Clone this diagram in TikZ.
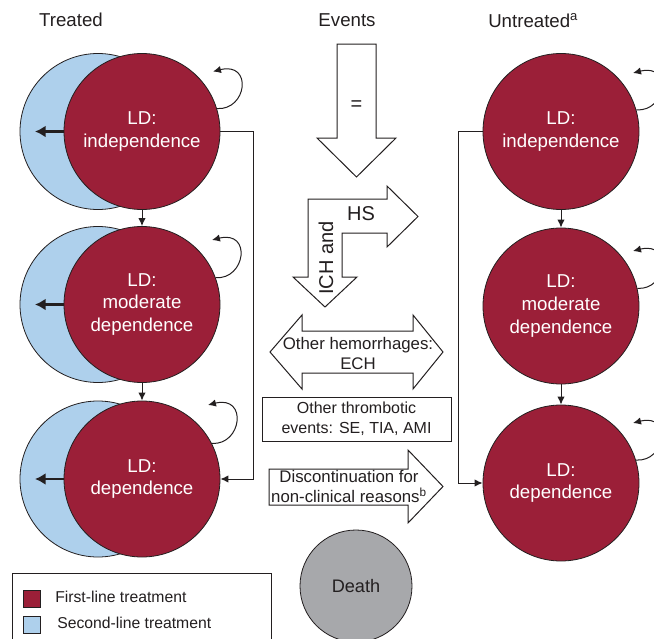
\documentclass[tikz,border=0pt]{standalone}
\usepackage{fontspec}
\setmainfont{Liberation Sans}
\usetikzlibrary{arrows.meta}
\definecolor{ldred}{RGB}{155,31,56}
\definecolor{ldblue}{RGB}{174,208,236}
\definecolor{ldgray}{RGB}{167,168,171}
\definecolor{ink}{RGB}{35,31,32}
\begin{document}
\begin{tikzpicture}[x=0.75pt,y=-0.75pt,
  redc/.style={circle, draw=ink, line width=0.6pt, fill=ldred, minimum size=117pt, inner sep=0pt, text=white, align=center, font=\fontsize{14}{17}\selectfont},
  bluec/.style={circle, draw=ink, line width=0.6pt, fill=ldblue, minimum size=117pt, inner sep=0pt},
  deathc/.style={circle, draw=ink, line width=0.6pt, fill=ldgray, minimum size=84pt, inner sep=0pt, text=ink, font=\fontsize{13.6}{16}\selectfont},
  conn/.style={draw=ink, line width=0.75pt, -{Latex[length=6pt,width=5.5pt]}},
  tharrow/.style={draw=ink, line width=2pt, -{Latex[length=8pt,width=9pt]}},
  blockarrow/.style={draw=ink, line width=0.75pt, fill=white, line join=miter},
  lbl/.style={text=ink, font=\fontsize{12.6}{15}\selectfont, align=center},
  smlbl/.style={text=ink, font=\fontsize{12}{15}\selectfont, align=center},
  leglbl/.style={text=ink, font=\fontsize{11.8}{14}\selectfont},
  biglbl/.style={text=ink, font=\fontsize{15}{18}\selectfont},
  headlbl/.style={text=ink, font=\fontsize{14}{16}\selectfont},
  legsq/.style={draw=ink, line width=0.6pt, minimum size=13pt, inner sep=0pt}
]
\useasboundingbox (0,0) rectangle (654,639);
\clip (0,0) rectangle (654,639);

% headers
\node[headlbl] (hTreated) at (71,20) {Treated};
\node[headlbl] (hEvents) at (347,20) {Events};
\node[headlbl, anchor=west, inner sep=0pt] (hUntreated) at (488,21) {Untreated\textsuperscript{a}};

% treated column
\node[bluec] (b1) at (98,131.5) {};
\node[bluec] (b2) at (98,304.5) {};
\node[bluec] (b3) at (98,479) {};
\node[redc] (t1) at (142,131.5) {LD:\\independence};
\node[redc] (t2) at (142,304.5) {LD:\\moderate\\dependence};
\node[redc] (t3) at (142,479) {LD:\\dependence};

\coordinate (a1) at (35,131.5);
\coordinate (a2) at (35,304.5);
\coordinate (a3) at (35,479);
\draw[tharrow] (t1.west) -- (a1);
\draw[tharrow] (t2.west) -- (a2);
\draw[tharrow] (t3.west) -- (a3);

\draw[conn] (t1.south) -- (t2.north);
\draw[conn] (t2.south) -- (t3.north);
\draw[conn] (t1.east) -- ++(33,0) |- (t3.east);

\draw[conn] (t1.17) .. controls +(30,2) and +(40,-10) .. ([shift={(71,-60)}]t1.center);
\draw[conn] (t2.20) .. controls +(30,2) and +(40,-10) .. ([shift={(70,-64.5)}]t2.center);
\draw[conn] (t3.27) .. controls +(30,2) and +(40,-10) .. ([shift={(66,-74)}]t3.center);

% untreated column
\node[redc] (u1) at (561,131.5) {LD:\\independence};
\node[redc] (u2) at (561,306) {LD:\\moderate\\dependence};
\node[redc] (u3) at (561,483) {LD:\\dependence};
\draw[conn] (u1.south) -- (u2.north);
\draw[conn] (u2.south) -- (u3.north);
\draw[conn] (u1.west) -- ++(-24,0) |- (u3.west);
\draw[conn] (u1.16) .. controls +(30,2) and +(40,-10) .. ([shift={(72,-58.5)}]u1.center);
\draw[conn] (u2.13) .. controls +(30,2) and +(40,-10) .. ([shift={(72,-55)}]u2.center);
\draw[conn] (u3.17) .. controls +(30,2) and +(40,-10) .. ([shift={(72,-60)}]u3.center);

% events column
\draw[blockarrow] (337,44) -- (376,44) -- (376,138) -- (396,138) -- (356.5,177) -- (317,138) -- (337,138) -- cycle;
\node[biglbl] (eq) at (356.5,106) {=};

\draw[blockarrow] (308,277) -- (293,277) -- (325,307) -- (357,277) -- (342,277) -- (342,233) -- (387,233) -- (387,247) -- (418,216.5) -- (387,186) -- (387,199) -- (308,199) -- cycle;
\node[biglbl] (hs) at (361,214) {HS};
\node[biglbl, rotate=90] (ich) at (326,258) {ICH and};

\draw[blockarrow] (270,352) -- (302,315) -- (302,331) -- (413,331) -- (413,315) -- (443,352) -- (413,389) -- (413,373) -- (302,373) -- (302,389) -- cycle;
\node[lbl] (hem) at (358,353) {Other hemorrhages:\\ECH};

\draw[blockarrow] (262,397) rectangle (451,441);
\node[smlbl] (thr) at (356.5,419) {Other thrombotic\\events: SE, TIA, AMI};

\draw[blockarrow] (269,469) -- (408,469) -- (408,450) -- (443,486.5) -- (408,523) -- (408,505) -- (269,505) -- cycle;
\node[lbl] (disc) at (349,486) {Discontinuation for\\non-clinical reasons\textsuperscript{b}};

\node[deathc] (death) at (356,586) {Death};

% legend
\draw[draw=ink, line width=0.7pt, fill=white] (12,573) rectangle (271,660);
\node[legsq, fill=ldred] (lg1) at (32,599) {};
\node[legsq, fill=ldblue] (lg2) at (32,625) {};
\node[leglbl, anchor=west, inner sep=0pt] (lt1) at (55,597) {First-line treatment};
\node[leglbl, anchor=west, inner sep=0pt] (lt2) at (57,623) {Second-line treatment};
\end{tikzpicture}
\end{document}
